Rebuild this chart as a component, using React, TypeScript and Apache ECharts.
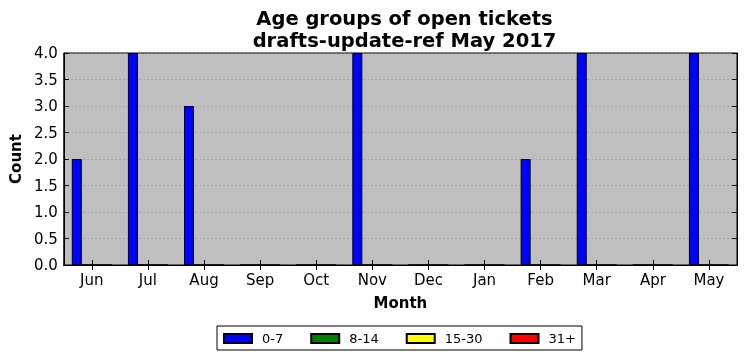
import React, { useEffect, useRef } from "react";
import * as echarts from "echarts";

const months = ["Jun", "Jul", "Aug", "Sep", "Oct", "Nov", "Dec", "Jan", "Feb", "Mar", "Apr", "May"];
const age0to7 = [2, 4, 3, 0, 0, 4, 0, 0, 2, 4, 0, 4];
const age8to14 = [0, 0, 0, 0, 0, 0, 0, 0, 0, 0, 0, 0];
const age15to30 = [0, 0, 0, 0, 0, 0, 0, 0, 0, 0, 0, 0];
const age31plus = [0, 0, 0, 0, 0, 0, 0, 0, 0, 0, 0, 0];
const seriesNames = ["0-7", "8-14", "15-30", "31+"];
const seriesColors = ["#0000ff", "#008000", "#ffff00", "#ff0000"];
const titleLines = ["Age groups of open tickets", "drafts-update-ref May 2017"];

const FONT = "DejaVu Sans";

export default function App() {
  const ref = useRef<HTMLDivElement>(null);
  useEffect(() => {
    const chart = echarts.init(ref.current!, undefined, { renderer: "svg" });
    const data = [age0to7, age8to14, age15to30, age31plus];
    const tickCommon = { show: true, inside: true, length: 5, lineStyle: { color: "#000", width: 1 } };
    chart.setOption({
      animation: false,
      title: {
        text: titleLines.join("\n"),
        left: 399.5,
        textAlign: "center",
        top: 2,
        textStyle: { fontFamily: FONT, fontSize: 19.5, fontWeight: "bold", color: "#000", lineHeight: 22 },
      },
      grid: {
        left: 62,
        right: 9,
        top: 53,
        bottom: 96,
        show: true,
        backgroundColor: "#bfbfbf",
        borderColor: "#000",
        borderWidth: 1,
      },
      legend: {
        top: 326,
        left: 217,
        data: seriesNames,
        icon: "rect",
        itemWidth: 28,
        itemHeight: 9,
        itemGap: 27,
        borderColor: "#000",
        borderWidth: 1,
        borderRadius: 0,
        padding: [6, 6, 5, 6],
        textStyle: { fontFamily: FONT, fontSize: 13, color: "#000", padding: [0, 0, 0, 5] },
      },
      xAxis: [
        {
          type: "category",
          data: months,
          position: "bottom",
          name: "Month",
          nameLocation: "middle",
          nameGap: 30,
          nameTextStyle: { fontFamily: FONT, fontSize: 15, fontWeight: "bold", color: "#000" },
          axisLine: { show: true, lineStyle: { color: "#000" } },
          axisTick: { ...tickCommon, alignWithLabel: true },
          axisLabel: { fontFamily: FONT, fontSize: 15, color: "#000", margin: 7 },
          splitLine: { show: false },
        },
        {
          type: "category",
          data: months,
          position: "top",
          axisLine: { show: true, lineStyle: { color: "#000" } },
          axisTick: { ...tickCommon, alignWithLabel: true },
          axisLabel: { show: false },
          splitLine: { show: false },
        },
      ],
      yAxis: [
        {
          type: "value",
          min: 0,
          max: 4,
          interval: 0.5,
          name: "Count",
          nameLocation: "middle",
          nameGap: 38,
          nameTextStyle: { fontFamily: FONT, fontSize: 15, fontWeight: "bold", color: "#000" },
          axisLine: { show: true, lineStyle: { color: "#000" } },
          axisTick: tickCommon,
          axisLabel: { fontFamily: FONT, fontSize: 15, color: "#000", margin: 6, formatter: (v: number) => v.toFixed(1) },
          splitLine: { show: true, lineStyle: { color: "#8a8a8a", type: [1, 3], width: 1 } },
        },
        {
          type: "value",
          min: 0,
          max: 4,
          interval: 0.5,
          position: "right",
          axisLine: { show: true, lineStyle: { color: "#000" } },
          axisTick: tickCommon,
          axisLabel: { show: false },
          splitLine: { show: false },
        },
      ],
      series: seriesNames.map((name, i) => ({
        name,
        type: "bar",
        data: data[i],
        xAxisIndex: 0,
        yAxisIndex: 0,
        barWidth: 10,
        barGap: "0%",
        itemStyle: { color: seriesColors[i], borderColor: "#000", borderWidth: 1 },
      })),
    });
    return () => chart.dispose();
  }, []);
  return <div ref={ref} style={{ position: "fixed", left: 0, top: 0, width: 746, height: 361 }} />;
}
